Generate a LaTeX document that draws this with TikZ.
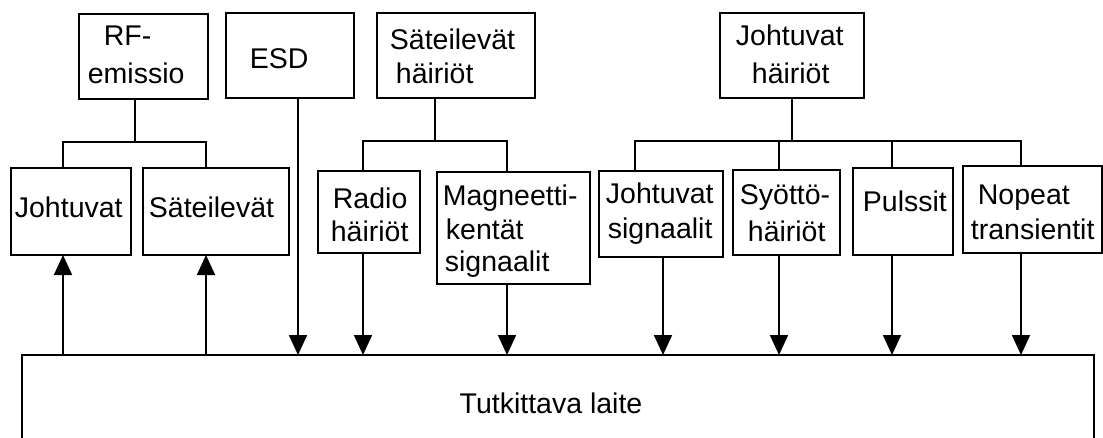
\documentclass[tikz,border=0pt]{standalone}
\usepackage{fontspec}
\setmainfont{Liberation Sans}
\usetikzlibrary{arrows.meta}
\begin{document}
\begin{tikzpicture}[x=1pt,y=-1pt,
  line width=1.8pt,
  box/.style={draw, anchor=north west, outer sep=0pt, inner sep=0pt},
  txt/.style={anchor=base west, inner sep=0pt, font=\fontsize{28.5}{34}\selectfont},
  arr/.style={-{Triangle[width=18pt,length=20pt]}}]
\useasboundingbox (0,0) rectangle (1103,437);
% top row
\node[box, minimum width=129pt, minimum height=85pt] (rf) at (79,14) {};
\node[box, minimum width=128pt, minimum height=85pt] (esd) at (226,13) {};
\node[box, minimum width=158pt, minimum height=85pt] (sh) at (377,13) {};
\node[box, minimum width=144pt, minimum height=85pt] (jh) at (720,13) {};
% second row
\node[box, minimum width=120pt, minimum height=87pt] (jo) at (11,168) {};
\node[box, minimum width=146pt, minimum height=87pt] (sa) at (143,168) {};
\node[box, minimum width=102pt, minimum height=82pt] (ra) at (318,171) {};
\node[box, minimum width=153pt, minimum height=112pt] (ma) at (437,172) {};
\node[box, minimum width=124pt, minimum height=86pt] (js) at (599,171) {};
\node[box, minimum width=107pt, minimum height=85pt] (sy) at (733,170) {};
\node[box, minimum width=100pt, minimum height=87pt] (pu) at (853,168) {};
\node[box, minimum width=139pt, minimum height=87pt] (no) at (963,166) {};
% device
\node[anchor=north west, outer sep=0pt, inner sep=0pt, minimum width=1072pt, minimum height=84pt] (dev) at (22,355) {};
\draw (dev.south west) -- (dev.north west) -- (dev.north east) -- (dev.south east);
% texts
\node[txt] (t1a) at (103,45) {RF-};
\node[txt] (t1b) at (87,83) {emissio};
\node[txt] (t2) at (249,68) {ESD};
\node[txt] (t3a) at (389,49) {Säteilevät};
\node[txt] (t3b) at (395,83) {häiriöt};
\node[txt] (t4a) at (735,45) {Johtuvat};
\node[txt] (t4b) at (751,83) {häiriöt};
\node[txt] (t5) at (14,217) {Johtuvat};
\node[txt] (t6) at (148,217) {Säteilevät};
\node[txt] (t7a) at (332,208) {Radio};
\node[txt] (t7b) at (330,241) {häiriöt};
\node[txt] (t8a) at (442,205) {Magneetti-};
\node[txt] (t8b) at (445,239) {kentät};
\node[txt] (t8c) at (444,271) {signaalit};
\node[txt] (t9a) at (605,203) {Johtuvat};
\node[txt] (t9b) at (607,238) {signaalit};
\node[txt] (t10a) at (739,204) {Syöttö-};
\node[txt] (t10b) at (747,241) {häiriöt};
\node[txt] (t11) at (862,211) {Pulssit};
\node[txt] (t12a) at (977,204) {Nopeat};
\node[txt] (t12b) at (970,239) {transientit};
\node[txt, anchor=base] (t13) at (551,413) {Tutkittava laite};
% tree: RF-emissio
\coordinate (rfj) at (135,142);
\coordinate (b1) at (63,142);
\coordinate (b2) at (206,142);
\draw (rfj |- rf.south) -- (rfj);
\draw (b1 |- jo.north) -- (b1) -- (b2) -- (b2 |- sa.north);
% tree: Säteilevät häiriöt
\coordinate (shj) at (435,141);
\coordinate (b3) at (363,141);
\coordinate (b4) at (507,141);
\draw (shj |- sh.south) -- (shj);
\draw (b3 |- ra.north) -- (b3) -- (b4) -- (b4 |- ma.north);
% tree: Johtuvat häiriöt
\coordinate (jhj) at (792,141);
\coordinate (b5) at (635,141);
\coordinate (b6) at (779,141);
\coordinate (b7) at (892,141);
\coordinate (b8) at (1021,141);
\draw (jhj |- jh.south) -- (jhj);
\draw (b5 |- js.north) -- (b5) -- (b8) -- (b8 |- no.north);
\draw (b6) -- (b6 |- sy.north);
\draw (b7) -- (b7 |- pu.north);
% arrows
\coordinate (e1) at (298,0);
\draw[arr] (b1 |- dev.north) -- (b1 |- jo.south);
\draw[arr] (b2 |- dev.north) -- (b2 |- sa.south);
\draw[arr] (e1 |- esd.south) -- (e1 |- dev.north);
\draw[arr] (b3 |- ra.south) -- (b3 |- dev.north);
\draw[arr] (b4 |- ma.south) -- (b4 |- dev.north);
\coordinate (e2) at (663,0);
\draw[arr] (e2 |- js.south) -- (e2 |- dev.north);
\draw[arr] (b6 |- sy.south) -- (b6 |- dev.north);
\draw[arr] (b7 |- pu.south) -- (b7 |- dev.north);
\draw[arr] (b8 |- no.south) -- (b8 |- dev.north);
\end{tikzpicture}
\end{document}
